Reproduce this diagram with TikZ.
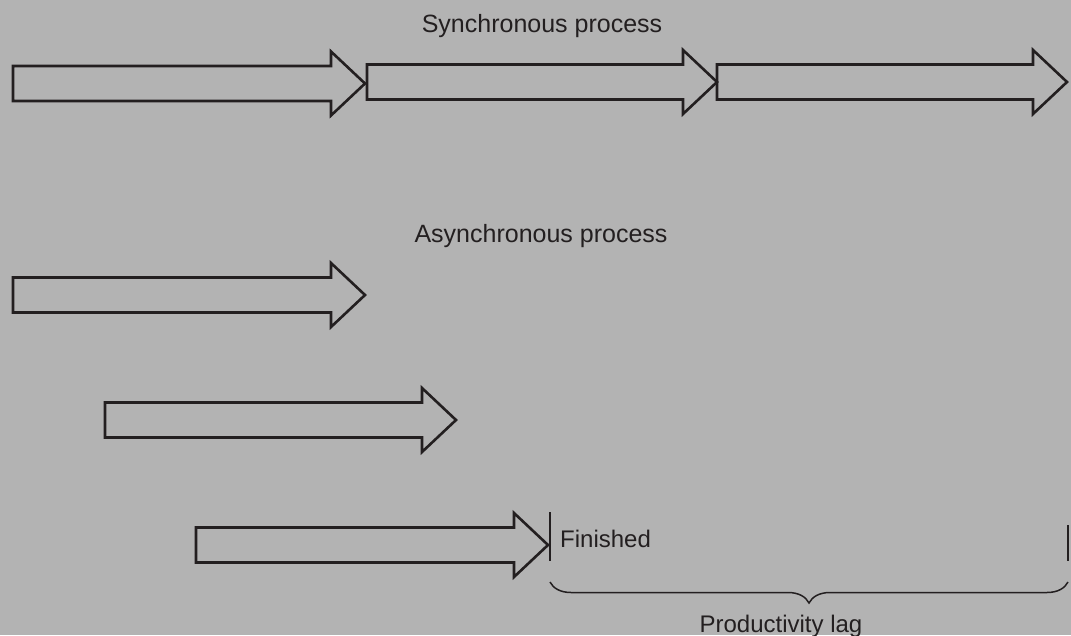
\documentclass[tikz,border=0pt]{standalone}
\usepackage{fontspec}
\setmainfont{Liberation Sans}
\usetikzlibrary{decorations.pathreplacing}
\definecolor{paper}{RGB}{179,179,179}
\definecolor{ink}{RGB}{35,31,32}

% block arrow: left x, tip x, centre y (body half height 17.5, head half height 32, head length 34)
\newcommand\blockarrow[3]{%
  \draw[blockarrow] (#1,#3-17.5) -- (#2-34,#3-17.5) -- (#2-34,#3-32) -- (#2,#3)
    -- (#2-34,#3+32) -- (#2-34,#3+17.5) -- (#1,#3+17.5) -- cycle;}

\begin{document}
\begin{tikzpicture}[x=1pt,y=-1pt,
  blockarrow/.style={draw=ink, line width=2.6pt, line join=miter},
  title/.style={font=\fontsize{25}{30}\selectfont, text=ink, inner sep=0pt, anchor=base},
  note/.style={font=\fontsize{24}{29}\selectfont, text=ink, inner sep=0pt, anchor=base},
  tick/.style={draw=ink, line width=1.2pt},
  lagbrace/.style={draw=ink, line width=1.5pt, decorate,
    decoration={brace, mirror, amplitude=21pt}}]

\useasboundingbox[fill=paper] (0,0) rectangle (1071,635);

% synchronous: three arrows end to end
\node[title] (synctitle) at (542,32) {Synchronous process};
\blockarrow{13}{365}{83.5}
\blockarrow{367}{717}{82}
\blockarrow{717}{1067}{82}

% asynchronous: staggered arrows
\node[title] (asynctitle) at (541,242) {Asynchronous process};
\blockarrow{13}{365}{295}
\blockarrow{105}{456}{420}
\blockarrow{196}{548}{545}

% finished marker and lag span
\coordinate (finA) at (550,512);
\coordinate (finB) at (550,561);
\coordinate (endA) at (1068,525);
\coordinate (endB) at (1068,561);
\draw[tick] (finA) -- (finB);
\draw[tick] (endA) -- (endB);
\node[note, anchor=base west] (finished) at (560,547) {Finished};

\coordinate (braceL) at (550,582);
\coordinate (braceR) at (1068,582);
\draw[lagbrace] (braceL) -- (braceR);
\node[note] (lag) at (781,632) {Productivity lag};

\end{tikzpicture}
\end{document}
